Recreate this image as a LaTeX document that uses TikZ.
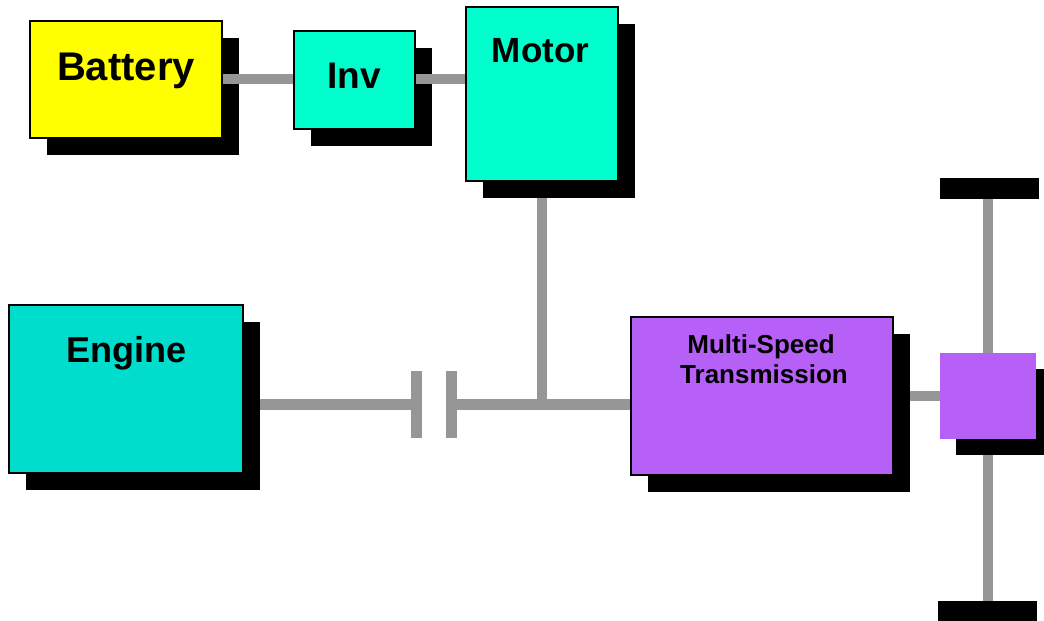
\documentclass[tikz,border=0pt]{standalone}
\usepackage{fontspec}
\setmainfont{Liberation Sans}
\usetikzlibrary{shadows}
\pgfdeclarelayer{background}
\pgfsetlayers{background,main}
\definecolor{battyellow}{RGB}{255,255,0}
\definecolor{motcyan}{RGB}{0,255,204}
\definecolor{engcyan}{RGB}{0,221,204}
\definecolor{transpurple}{RGB}{183,96,247}
\definecolor{shaftgray}{RGB}{150,150,150}
\begin{document}
\begin{tikzpicture}[x=1pt,y=-1pt,
  box/.style={draw=black, line width=1.3pt, inner sep=0pt,
    general shadow={fill=black, shadow xshift=17pt, shadow yshift=-17pt}},
  plainbox/.style={inner sep=0pt,
    general shadow={fill=black, shadow xshift=16pt, shadow yshift=-16pt}},
  shaft/.style={draw=shaftgray, line width=10.5pt},
  plate/.style={fill=shaftgray, inner sep=0pt, minimum width=11pt, minimum height=67pt},
  bar/.style={fill=black, inner sep=0pt, minimum width=99pt, minimum height=21pt},
  lbl/.style={inner sep=0pt, anchor=base, font=\bfseries}]
\useasboundingbox (0,0) rectangle (1044,621);

% boxes
\node[box, fill=battyellow, minimum width=192pt, minimum height=117pt] (batt) at (126,79.5) {};
\node[box, fill=motcyan, minimum width=121pt, minimum height=98pt] (inv) at (354.5,80) {};
\node[box, fill=motcyan, minimum width=152pt, minimum height=174pt] (mot) at (542,94) {};
\node[box, fill=engcyan, minimum width=234pt, minimum height=168pt] (eng) at (126,389) {};
\node[box, fill=transpurple, minimum width=262pt, minimum height=158pt] (trans) at (762,396) {};
\node[plainbox, fill=transpurple, minimum width=96pt, minimum height=86pt] (diff) at (988,396) {};

% wheels
\node[bar] (topbar) at (989.5,188) {};
\node[bar] (botbar) at (987.5,611.5) {};

% clutch plates
\node[plate] (p1) at (416.5,404.5) {};
\node[plate] (p2) at (451.5,404.5) {};
\coordinate (j) at (mot.south |- p2.east);

% labels
\node[lbl, font=\fontsize{40}{48}\selectfont\bfseries] (battT) at (126,80) {Battery};
\node[lbl, font=\fontsize{37}{44}\selectfont\bfseries] (invT) at (354,88) {Inv};
\node[lbl, font=\fontsize{35}{42}\selectfont\bfseries] (motT) at (540.5,62) {Motor};
\node[lbl, font=\fontsize{36}{43}\selectfont\bfseries] (engT) at (126.5,362) {Engine};
\node[lbl, font=\fontsize{26}{31}\selectfont\bfseries] (transT1) at (761,353) {Multi-Speed};
\node[lbl, font=\fontsize{26}{31}\selectfont\bfseries] (transT2) at (764,383.5) {Transmission};

% shafts under the shadows
\begin{pgfonlayer}{background}
  \draw[shaft] (mot.south) -- (j);
  \draw[shaft] (p1.west -| eng.east) -- (p1.west);
  \draw[shaft] (p2.east) -- (trans.west |- p2.east);
  \draw[shaft] (trans.east |- diff.west) -- (diff.west);
  \draw[shaft] (topbar.south -| diff.center) -- (botbar.north -| diff.center);
\end{pgfonlayer}

% shafts over the shadows
\draw[shaft] (batt.east |- 0,79) -- (inv.west |- 0,79);
\draw[shaft] (inv.east |- 0,79) -- (mot.west |- 0,79);
\end{tikzpicture}
\end{document}
